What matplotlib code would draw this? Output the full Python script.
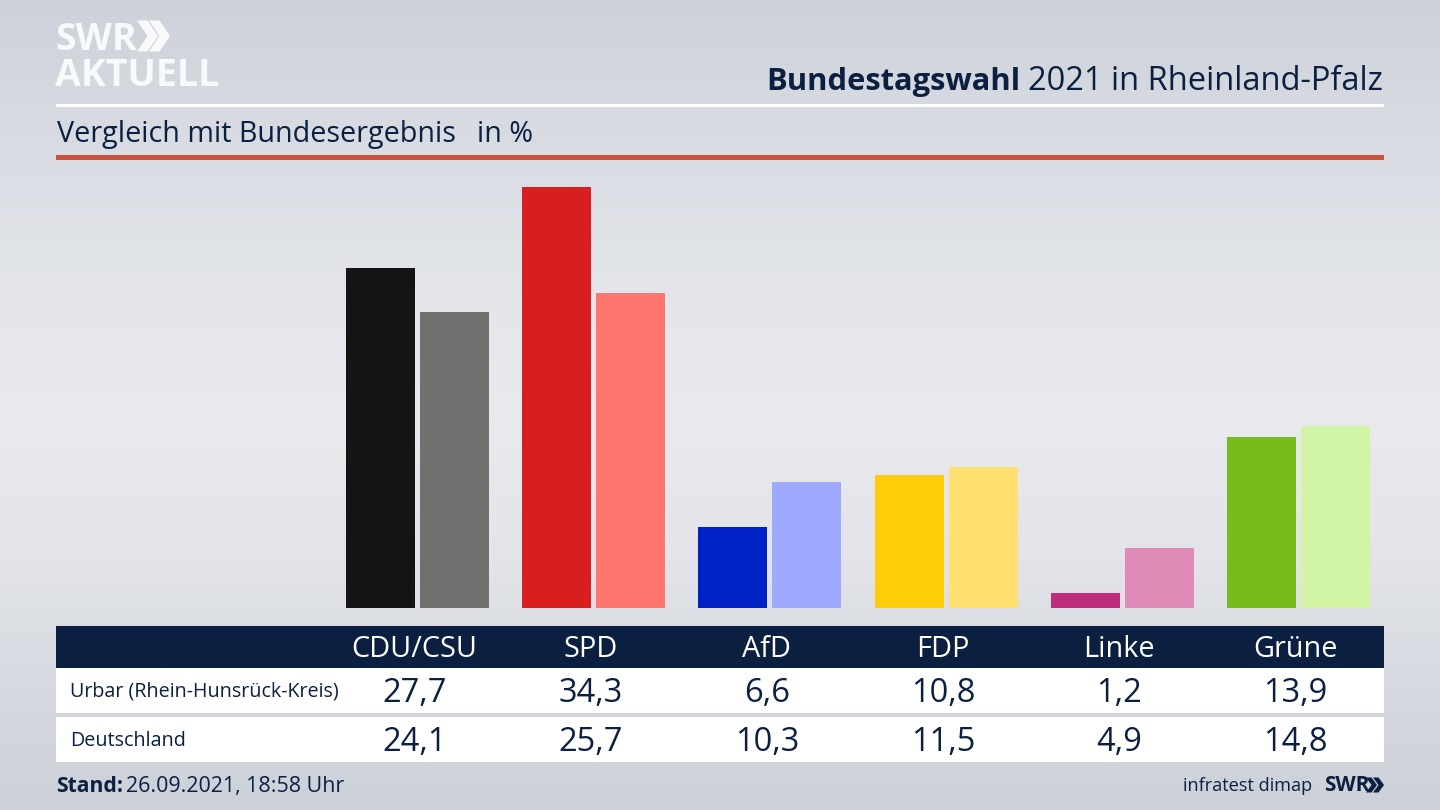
import numpy as np
import matplotlib
matplotlib.use("Agg")
import matplotlib.pyplot as plt
from matplotlib.patches import Rectangle, Polygon

parties = ["CDU/CSU", "SPD", "AfD", "FDP", "Linke", "Grüne"]
urbar = [27.7, 34.3, 6.6, 10.8, 1.2, 13.9]
deutschland = [24.1, 25.7, 10.3, 11.5, 4.9, 14.8]
colors_urbar = ["#141414", "#D71F20", "#0021C6", "#FFCC0A", "#BE2C7C", "#78BC1B"]
colors_de = ["#72706E", "#FF7570", "#9FAAFF", "#FFE070", "#E08AB8", "#D2F5A5"]
row_labels = ["Urbar (Rhein-Hunsrück-Kreis)", "Deutschland"]

W, H = 1440, 810
NAVY = "#0B2040"
plt.rcParams["font.family"] = ["Open Sans", "DejaVu Sans"]
fig = plt.figure(figsize=(W / 100, H / 100), dpi=100)

# Overlay axes in pixel coordinates for background and furniture
bg = fig.add_axes([0, 0, 1, 1])
bg.set_xlim(0, W)
bg.set_ylim(H, 0)
bg.axis("off")
t = np.array([0, 130, 300, 420, 560, 700, 810.0])
c = np.array([[205, 209, 217], [216, 219, 226], [228, 230, 235], [233, 234, 238],
              [226, 228, 233], [213, 216, 223], [204, 208, 216]]) / 255
yy = np.arange(H)
grad = np.stack([np.interp(yy, t, c[:, k]) for k in range(3)], axis=1)[:, None, :]
bg.imshow(grad, extent=(0, W, H, 0), aspect="auto", zorder=0)
bg.set_xlim(0, W)
bg.set_ylim(H, 0)

def rect(x0, y0, x1, y1, col):
    bg.add_patch(Rectangle((x0, y0), x1 - x0, y1 - y0, fc=col, ec="none", zorder=1))

def label(x, y, s, size, ha="left", col=NAVY, weight="normal"):
    bg.text(x, y, s, ha=ha, va="baseline", fontsize=size, color=col, fontweight=weight, zorder=3)

rect(56, 104, 1384, 107, "#FFFFFF")
rect(56, 155, 1384, 160, "#C9523F")
rect(56, 626, 1384, 668, NAVY)
rect(56, 668, 1384, 713, "#FFFFFF")
rect(56, 717, 1384, 762, "#FFFFFF")

# Bars
px_per_unit = 12.27
step = 176.2
x0 = 417.5
ax = fig.add_axes([56 / W, (H - 608) / H, (1384 - 56) / W, (608 - 160) / H])
ax.patch.set_alpha(0)
ax.set_xlim((56 - x0) / step, (1384 - x0) / step)
ax.set_ylim(0, (608 - 160) / px_per_unit)
ax.axis("off")
idx = np.arange(len(parties))
bw, off = 69 / step, 37 / step
ax.bar(idx - off, urbar, bw, color=colors_urbar)
ax.bar(idx + off, deutschland, bw, color=colors_de)

# Titles
label(1383, 90, "2021 in Rheinland-Pfalz", 23.5, ha="right")
label(1020, 90, "Bundestagswahl", 22.2, ha="right", weight="bold")
label(57, 142, "Vergleich mit Bundesergebnis", 20.7)
label(477, 142, "in %", 20.7)

# Table
for i, p in enumerate(parties):
    cx = x0 + step * i - 3.5
    label(cx, 657, p, 20.8, ha="center", col="#FFFFFF")
    label(cx + 0.5, 702, f"{urbar[i]:.1f}".replace(".", ","), 23.5, ha="center")
    label(cx + 0.5, 751, f"{deutschland[i]:.1f}".replace(".", ","), 23.5, ha="center")
label(70.5, 697, row_labels[0], 14.2)
label(70.5, 746, row_labels[1], 14.2)

# Footer
label(56, 792, "Stand:", 15.2, weight="bold")
label(126, 792, "26.09.2021, 18:58 Uhr", 15.4)
label(1312, 791, "infratest dimap", 13.1, ha="right")
label(1324, 791, "SWR", 15, weight="bold")

def chevrons(x, y, h, w, gap, col):
    for k in range(2):
        xs = x + k * gap
        bg.add_patch(Polygon([(xs, y - h / 2), (xs + w * .5, y - h / 2), (xs + w, y), (xs + w * .5, y + h / 2),
                              (xs, y + h / 2), (xs + w * .5, y)], fc=col, ec="none", zorder=3))

chevrons(1366, 785, 15, 11, 7, NAVY)

# Logo
label(55, 50, "SWR", 27, col="#F8F9FA", weight="bold")
label(55, 86, "AKTUELL", 27, col="#F8F9FA", weight="bold")
chevrons(137, 36, 31, 21, 12, "#F8F9FA")

fig.savefig("out.png", dpi=100)
